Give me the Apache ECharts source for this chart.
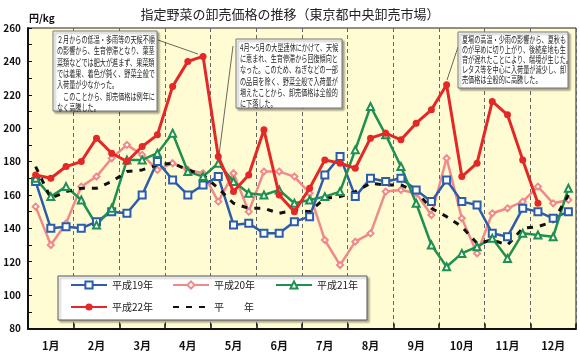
<!DOCTYPE html>
<html><head><meta charset="utf-8">
<script src="https://cdn.jsdelivr.net/npm/echarts@6/dist/echarts.min.js"></script>
<style>html,body{margin:0;padding:0;background:#fff}#c{width:580px;height:358px}</style>
</head><body><div id="c"></div>
<script>
const months = ['1月','2月','3月','4月','5月','6月','7月','8月','9月','10月','11月','12月'];
const thirds = ['上旬','中旬','下旬'];
const categories = months.flatMap(m => thirds.map(t => m + t));
const yTicks = [80, 100, 120, 140, 160, 180, 200, 220, 240, 260];

const h19 = [168,140,141,140,144,150,149,160,180,169,160,166,171,142,143,137,137,144,147,172,183,159,170,168,170,163,156,169,156,154,137,135,152,150,146,150];
const h20 = [153,130,143,165,171,182,190,184,175,179,175,173,156,173,150,174,174,171,161,133,118,132,137,162,163,161,148,182,146,125,149,152,156,165,155,157];
const h21 = [170,159,165,157,142,152,181,181,185,197,174,171,179,168,161,160,163,155,157,159,162,187,213,196,177,155,130,117,125,129,134,122,137,136,135,164];
const h22 = [172,170,177,180,194,185,180,189,196,225,240,243,183,162,172,199,160,150,164,181,179,176,194,197,193,203,211,226,171,179,216,208,181,155,null,null];
const heinen = [177,158,162,164,164,168,174,175,178,179,175,172,164,155,152,152,149,151,150,158,159,162,167,166,166,162,152,147,141,131,133,130,140,141,144,160];

const seriesNames = ['平成19年','平成20年','平成21年','平成22年','平　　年'];
const titleText = '指定野菜の卸売価格の推移（東京都中央卸売市場）';
const unitText = '円/kg';
const note1 = ['２月からの低温・多雨等の天候不順','の影響から、生育停滞となり、葉茎','菜類などでは肥大が進まず、果菜類','では着果、着色が鈍く、野菜全般で','入荷量が少なかった。','　このことから、卸売価格は例年に','なく高騰した。'];
const note2 = ['4月～5月の大型連休にかけて、天候','に恵まれ、生育停滞から回復傾向と','なった。このため、ねぎなどの一部','の品目を除く、野菜全般で入荷量が','増えたことから、卸売価格は全般的','に下落した。'];
const note3 = ['夏場の高温・少雨の影響から、夏秋も','のが早めに切り上がり、後続産地も生','育が遅れたことにより、端境が生じた。','レタス等を中心に入荷量が減少し、卸','売価格は全般的に高騰した。'];

const FONT = '"Noto Sans CJK JP", "Noto Sans", sans-serif';
const chart = echarts.init(document.getElementById('c'), null, {renderer: 'canvas'});

function noteBox(x, y, w, h, lines, lh, lineFrom, lineTo) {
  return [
    {type: 'line', z: 6, shape: {x1: lineFrom[0], y1: lineFrom[1], x2: lineTo[0], y2: lineTo[1]}, style: {stroke: '#444', lineWidth: 0.8}},
    {type: 'rect', z: 7, shape: {x: x, y: y, width: w, height: h}, style: {fill: '#fff', stroke: '#777', lineWidth: 1, shadowBlur: 2, shadowOffsetX: 2, shadowOffsetY: 2, shadowColor: 'rgba(0,0,0,0.35)'}},
    {type: 'text', z: 8, x: x + 4, y: y + 3, scaleX: 0.68, scaleY: 1,
      style: {text: lines.join('\n'), font: '9px ' + FONT, fill: '#222', lineHeight: lh, textAlign: 'left', textVerticalAlign: 'top'}}
  ];
}

const colors = ['#2B5DAA', '#F08A8A', '#1E9050', '#E42828', '#111'];
const legendPos = [[70, 280], [172, 280], [275, 280], [70, 302], [172, 302]];

const option = {
  backgroundColor: '#fff',
  animation: false,
  title: {text: titleText, left: 'center', top: 3, textStyle: {fontFamily: FONT, fontSize: 13, fontWeight: 'normal', color: '#222'}},
  grid: {left: 28, right: 4, top: 28, bottom: 29.5, show: true, backgroundColor: '#FFFBD2', borderColor: '#222', borderWidth: 1},
  legend: seriesNames.map((n, i) => ({
    data: [i === 4 ? {name: n, itemStyle: {opacity: 0}} : n],
    left: legendPos[i][0], top: legendPos[i][1], z: 10, padding: 0, itemGap: 0,
    itemWidth: 36, itemHeight: 9, selectedMode: false,
    textStyle: {fontFamily: FONT, fontSize: 10, color: '#222'}
  })),
  xAxis: {
    type: 'category', data: categories, boundaryGap: true,
    axisLine: {lineStyle: {color: '#111', width: 2}},
    axisTick: {show: true, inside: true, length: 5, interval: (i) => i % 3 === 0, lineStyle: {color: '#111', width: 1.5}},
    splitLine: {show: true, interval: (i) => i % 3 === 0 && i > 0, lineStyle: {color: '#666', type: [4, 3], width: 1}},
    axisLabel: {interval: (i) => i % 3 === 1, formatter: (v, i) => months[Math.floor(i / 3)], margin: 12, fontFamily: FONT, fontSize: 11, color: '#111', fontWeight: 'bold'}
  },
  yAxis: {
    type: 'value', min: yTicks[0], max: yTicks[yTicks.length - 1], interval: 20,
    axisLine: {show: true, lineStyle: {color: '#111', width: 2}},
    axisTick: {show: true, inside: true, length: 4, lineStyle: {color: '#111'}},
    minorTick: {show: true, splitNumber: 2, length: 4, lineStyle: {color: '#111'}},
    splitLine: {show: false},
    axisLabel: {margin: 7, fontFamily: FONT, fontSize: 10, color: '#111', fontWeight: 'bold'}
  },
  graphic: [
    {type: 'text', x: 29, y: 13, z: 8, style: {text: unitText, font: 'bold 10px ' + FONT, fill: '#111', textVerticalAlign: 'top'}},
    {type: 'rect', z: 5, shape: {x: 58, y: 276, width: 309, height: 44}, style: {fill: '#fff', stroke: '#555', lineWidth: 1, shadowBlur: 2, shadowOffsetX: 2, shadowOffsetY: 2, shadowColor: 'rgba(0,0,0,0.3)'}},
    ...noteBox(53, 31, 104, 80, note1, 11.3, [158, 40], [198, 54]),
    ...noteBox(236, 39, 106, 69, note2, 11.2, [233, 46], [219, 155]),
    ...noteBox(458, 32, 110, 56, note3, 10, [458, 47], [447, 80])
  ],
  series: [
    {name: seriesNames[0], type: 'line', data: h19, color: colors[0], symbol: 'emptyRect', symbolSize: 7, lineStyle: {width: 2.5, color: colors[0]}, itemStyle: {borderWidth: 1.5}, z: 3},
    {name: seriesNames[1], type: 'line', data: h20, color: colors[1], symbol: 'emptyDiamond', symbolSize: 6, lineStyle: {width: 2.5, color: colors[1]}, itemStyle: {borderWidth: 1.2}, z: 2},
    {name: seriesNames[2], type: 'line', data: h21, color: colors[2], symbol: 'emptyTriangle', symbolSize: 7, lineStyle: {width: 2.5, color: colors[2]}, itemStyle: {borderWidth: 1.2}, z: 3},
    {name: seriesNames[3], type: 'line', data: h22, color: colors[3], symbol: 'circle', symbolSize: 7, lineStyle: {width: 3, color: colors[3]}, z: 4},
    {name: seriesNames[4], type: 'line', data: heinen, color: colors[4], symbol: 'none', lineStyle: {width: 3, color: colors[4], type: [6, 7]}, z: 3}
  ]
};
chart.setOption(option);
</script></body></html>
